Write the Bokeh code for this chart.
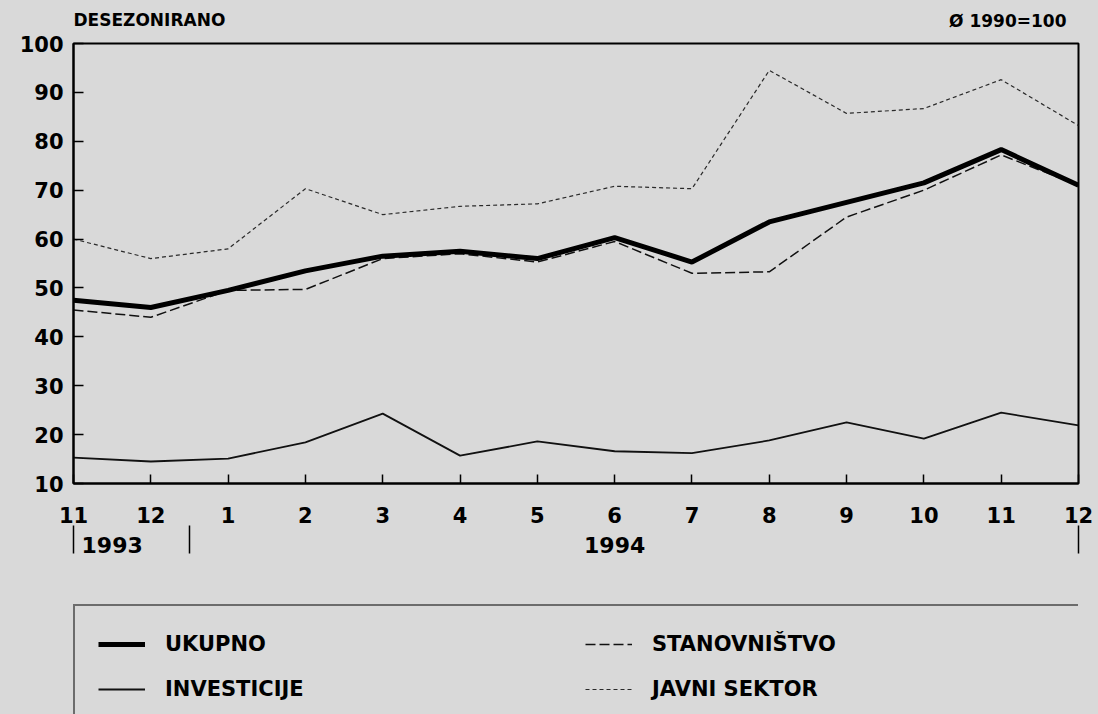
from bokeh.plotting import figure
from bokeh.layouts import column
from bokeh.models import (Range1d, FixedTicker, LinearAxis, Legend, LegendItem, Label,
                          ColumnDataSource)
from bokeh.embed import file_html
from bokeh.resources import INLINE

# ---- data ----
months = ["11", "12", "1", "2", "3", "4", "5", "6", "7", "8", "9", "10", "11", "12"]
years = ["1993", "1994"]
year_pos = [0.5, 7]
year_bounds = [0, 1.5, 13]
ukupno = [47.5, 46.0, 49.5, 53.5, 56.5, 57.5, 56.0, 60.3, 55.3, 63.5, 67.5, 71.5, 78.3, 71.0]
stanovnistvo = [45.5, 44.0, 49.5, 49.7, 56.0, 57.0, 55.3, 59.5, 53.0, 53.3, 64.5, 70.0, 77.2, 71.0]
investicije = [15.3, 14.5, 15.1, 18.4, 24.3, 15.7, 18.6, 16.6, 16.2, 18.8, 22.5, 19.2, 24.5, 21.9]
javni_sektor = [60.0, 56.0, 58.0, 70.3, 65.0, 66.7, 67.2, 70.8, 70.3, 94.5, 85.7, 86.7, 92.6, 83.2]
y_ticks = [10, 20, 30, 40, 50, 60, 70, 80, 90, 100]

BG = "#d9d9d9"
FONT = "DejaVu Sans"
W = 1098

STYLES = {
    "UKUPNO": dict(line_color="black", line_width=5),
    "INVESTICIJE": dict(line_color="#111111", line_width=1.8),
    "STANOVNIŠTVO": dict(line_color="#111111", line_width=1.5, line_dash="10 4"),
    "JAVNI SEKTOR": dict(line_color="#2a2a2a", line_width=1.2, line_dash="4 3"),
}
COLS = {"UKUPNO": "uk", "INVESTICIJE": "inv", "STANOVNIŠTVO": "st", "JAVNI SEKTOR": "jav"}

x = list(range(len(months)))
src = ColumnDataSource(dict(x=x, uk=ukupno, st=stanovnistvo, inv=investicije, jav=javni_sektor))


def blank(fig):
    fig.background_fill_color = BG
    fig.border_fill_color = BG
    fig.outline_line_color = None
    fig.xgrid.visible = False
    fig.ygrid.visible = False


# ---- header ----
top = figure(width=W, height=30, min_border=0, x_range=Range1d(0, 1), y_range=Range1d(0, 1),
             output_backend="svg", toolbar_location=None, x_axis_location=None,
             y_axis_location=None)
blank(top)
top.add_layout(Label(x=0, y=11, x_units="screen", y_units="screen", text="DESEZONIRANO",
                     text_font=FONT, text_font_style="bold", text_font_size="17px",
                     text_color="black", text_baseline="alphabetic"))
top.add_layout(Label(x=993, y=10, x_units="screen", y_units="screen", text="Ø 1990=100",
                     text_font=FONT, text_font_style="bold", text_font_size="17px",
                     text_color="black", text_align="right", text_baseline="alphabetic"))

# ---- main chart ----
p = figure(frame_width=1005, frame_height=440, min_border_left=73, min_border_right=20,
           min_border_top=13, min_border_bottom=107,
           x_range=Range1d(0, 13), y_range=Range1d(10, 100),
           output_backend="svg", toolbar_location=None, x_axis_location=None,
           y_axis_location=None)
blank(p)
p.outline_line_color = "black"
p.outline_line_width = 2

ya = LinearAxis(ticker=FixedTicker(ticks=y_ticks))
ya.major_tick_in = 10
ya.major_tick_out = 0
ya.major_tick_line_width = 1.5
ya.minor_tick_line_color = None
ya.axis_line_width = 2
ya.major_label_text_font = FONT
ya.major_label_text_font_style = "bold"
ya.major_label_text_font_size = "21px"
ya.major_label_text_color = "black"
ya.major_label_standoff = 10
p.add_layout(ya, "left")

xa = LinearAxis(ticker=FixedTicker(ticks=x))
xa.major_label_overrides = {i: m for i, m in enumerate(months)}
xa.major_tick_in = 9
xa.major_tick_out = 0
xa.major_tick_line_width = 1.5
xa.minor_tick_line_color = None
xa.axis_line_width = 2
xa.major_label_text_font = FONT
xa.major_label_text_font_style = "bold"
xa.major_label_text_font_size = "21px"
xa.major_label_text_color = "black"
xa.major_label_standoff = 23
p.add_layout(xa, "below")

yr = LinearAxis(ticker=FixedTicker(ticks=year_pos, minor_ticks=year_bounds))
yr.major_label_overrides = {pos: y for pos, y in zip(year_pos, years)}
yr.axis_line_color = None
yr.major_tick_line_color = None
yr.major_tick_out = 0
yr.major_tick_in = 0
yr.minor_tick_in = 0
yr.minor_tick_out = 28
yr.minor_tick_line_width = 1.5
yr.minor_tick_line_color = "black"
yr.major_label_text_font = FONT
yr.major_label_text_font_style = "bold"
yr.major_label_text_font_size = "22px"
yr.major_label_text_color = "black"
yr.major_label_standoff = -17
p.add_layout(yr, "below")

for name in ["JAVNI SEKTOR", "STANOVNIŠTVO", "INVESTICIJE", "UKUPNO"]:
    p.line("x", COLS[name], source=src, **STYLES[name])

# ---- legend panel (same series, outside its visible range; only the key shows) ----
lg = figure(width=W, height=124, min_border=0, x_range=Range1d(0, 1), y_range=Range1d(0, 1),
            output_backend="svg", toolbar_location=None, x_axis_location=None,
            y_axis_location=None)
blank(lg)
order = ["UKUPNO", "INVESTICIJE", "STANOVNIŠTVO", "JAVNI SEKTOR"]
items = []
for name in order:
    r = lg.line("x", COLS[name], source=src, **STYLES[name])
    items.append(LegendItem(label=name, renderers=[r]))
legend = Legend(items=items, location=(0, -15), ncols=2, orientation="vertical")
legend.label_text_font = FONT
legend.label_text_font_style = "bold"
legend.label_text_font_size = "21px"
legend.label_text_color = "black"
legend.glyph_width = 47
legend.glyph_height = 30
legend.label_standoff = 20
legend.label_width = 405
legend.label_height = 30
legend.spacing = 15
legend.padding = 23
legend.margin = 0
legend.border_line_color = "black"
legend.border_line_width = 2
legend.background_fill_color = BG
legend.background_fill_alpha = 1
lg.add_layout(legend, "center")

layout = column(top, p, lg, spacing=0)
html = file_html(layout, INLINE)
html = html.replace("</head>", "<style>html, body { background: %s; }</style>\n</head>" % BG, 1)
open("out.html", "w").write(html)
